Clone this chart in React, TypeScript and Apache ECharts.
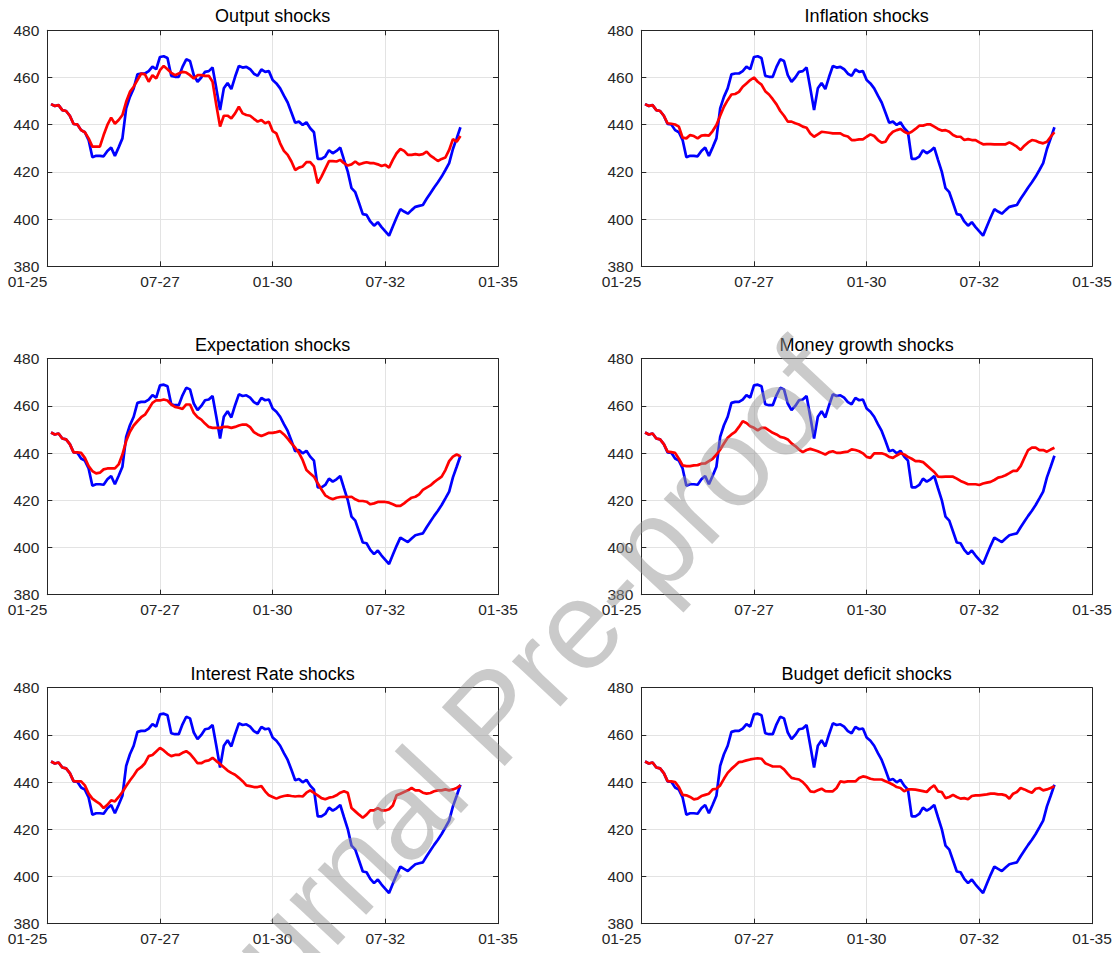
import React, { useEffect, useRef } from "react";
import * as echarts from "echarts";

// month index 0 = Jan 1925; first observation is month 1
const startMonth = 1;
const tickLabels = ["01-25", "07-27", "01-30", "07-32", "01-35"];
const titles = [
  "Output shocks",
  "Inflation shocks",
  "Expectation shocks",
  "Money growth shocks",
  "Interest Rate shocks",
  "Budget deficit shocks",
];

const actual = [
  448.7, 447.9, 448.3, 446.2, 445.8, 443.8, 440.3, 440.1, 437.7, 436.8,
  433.5, 426.2, 426.8, 426.8, 426.6, 428.9, 430.3, 426.8, 430.4, 434.2,
  446.9, 451.8, 455.4, 461.3, 461.7, 461.7, 462.7, 464.6, 463.5, 468.7,
  469.0, 468.3, 460.7, 460.3, 460.3, 464.5, 467.7, 467.0, 461.0, 458.2,
  460.0, 462.4, 462.7, 464.2, 455.4, 446.2, 455.4, 457.7, 455.1, 460.3,
  464.9, 464.2, 464.5, 463.5, 461.6, 460.7, 463.4, 462.4, 462.7, 458.9,
  457.5, 455.4, 452.3, 449.4, 445.2, 440.8, 441.3, 439.9, 441.0, 438.5,
  436.8, 425.5, 425.5, 426.5, 429.2, 427.9, 428.9, 430.3, 425.1, 420.1,
  413.1, 411.4, 406.8, 402.1, 401.8, 399.0, 397.2, 398.7, 396.6, 394.8,
  393.0, 396.9, 400.7, 404.2, 403.2, 402.3, 403.8, 405.2, 405.6, 406.0,
  408.6, 411.0, 413.4, 415.6, 418.0, 420.8, 423.7, 429.7, 434.2, 438.9,
];

const outputShock = [
  448.7, 447.9, 448.3, 446.2, 445.8, 443.8, 440.3, 440.1, 437.7, 436.8,
  434.2, 430.7, 430.7, 430.7, 435.6, 439.9, 443.0, 440.4, 442.0, 444.1,
  449.7, 453.9, 456.1, 458.9, 461.7, 461.3, 458.2, 461.0, 459.6, 463.1,
  464.9, 463.5, 462.0, 461.0, 461.7, 462.4, 462.1, 461.0, 459.6, 461.0,
  461.0, 460.7, 460.7, 458.2, 448.3, 439.2, 443.8, 443.8, 442.7, 444.8,
  447.6, 444.8, 444.1, 443.8, 442.5, 441.3, 442.0, 440.6, 441.3, 437.3,
  436.3, 432.1, 428.9, 427.2, 424.4, 420.8, 421.8, 422.3, 424.1, 424.1,
  422.3, 415.2, 418.0, 421.3, 424.6, 424.6, 424.4, 425.1, 423.7, 422.7,
  423.2, 424.4, 423.2, 423.7, 424.1, 423.7, 423.7, 423.2, 422.5, 423.0,
  421.8, 425.1, 427.9, 429.7, 428.9, 427.2, 427.2, 427.5, 427.2, 427.5,
  428.6, 426.9, 425.8, 424.6, 425.5, 426.1, 429.3, 433.9, 432.8, 435.2,
];

const inflationShock = [
  448.7, 447.9, 448.3, 446.2, 445.8, 443.8, 440.6, 440.4, 440.1, 439.2,
  434.5, 434.2, 435.6, 435.2, 434.2, 435.4, 435.6, 435.4, 437.3, 439.9,
  443.8, 447.6, 450.4, 452.8, 453.0, 453.9, 456.1, 457.5, 458.9, 460.0,
  458.2, 457.0, 454.2, 452.8, 450.8, 448.6, 445.8, 443.8, 441.3, 441.3,
  440.6, 440.1, 439.2, 438.7, 436.3, 434.9, 435.9, 437.0, 436.8, 436.6,
  436.3, 436.3, 436.3, 435.4, 435.0, 433.5, 433.5, 433.8, 433.8, 434.9,
  435.9, 435.2, 433.5, 432.4, 432.8, 435.4, 437.0, 437.7, 438.2, 437.0,
  436.3, 437.0, 438.2, 439.6, 439.6, 440.1, 440.1, 439.2, 438.2, 437.5,
  437.7, 437.0, 435.6, 434.9, 434.9, 433.5, 433.9, 433.5, 433.5, 432.5,
  431.7, 431.8, 431.8, 431.7, 431.7, 431.7, 431.7, 432.5, 431.7, 430.7,
  429.3, 431.1, 432.5, 433.5, 433.2, 432.5, 432.1, 432.8, 434.9, 436.8,
];

const expectationShock = [
  448.7, 447.9, 448.3, 446.2, 445.8, 443.8, 440.3, 440.3, 440.1, 438.0,
  434.5, 432.4, 431.4, 431.7, 433.1, 433.5, 433.5, 433.5, 435.2, 439.4,
  445.1, 449.0, 451.7, 453.5, 455.2, 456.3, 458.7, 461.3, 462.4, 462.3,
  462.7, 462.3, 460.6, 459.6, 459.2, 458.7, 460.6, 460.6, 457.0, 455.2,
  454.2, 452.5, 451.1, 450.7, 450.7, 450.7, 451.1, 451.1, 450.7, 451.1,
  451.7, 452.1, 452.1, 451.0, 448.9, 447.9, 447.2, 447.9, 448.6, 448.6,
  448.9, 449.3, 447.9, 446.1, 444.1, 442.3, 440.1, 437.0, 432.8, 431.4,
  430.0, 427.2, 424.6, 422.1, 421.1, 420.4, 421.1, 421.4, 421.5, 421.4,
  421.5, 420.4, 419.7, 419.7, 419.4, 418.3, 418.7, 419.3, 419.3, 419.3,
  419.0, 418.3, 417.6, 417.6, 418.7, 420.0, 421.1, 421.5, 422.5, 424.4,
  425.4, 426.3, 427.7, 428.9, 430.0, 432.8, 436.6, 438.5, 439.4, 438.7,
];

const moneyGrowthShock = [
  448.7, 447.9, 448.3, 446.2, 445.8, 443.8, 440.6, 440.4, 440.1, 437.6,
  434.8, 434.5, 434.5, 434.8, 434.9, 435.5, 435.6, 436.6, 437.6, 439.4,
  441.5, 444.1, 446.5, 447.9, 449.0, 451.1, 453.5, 452.8, 451.4, 450.7,
  449.6, 450.7, 450.7, 449.6, 448.6, 447.9, 446.9, 446.5, 445.8, 444.1,
  443.0, 441.5, 440.4, 441.3, 441.8, 441.3, 440.8, 440.1, 439.4, 440.4,
  440.8, 440.1, 440.1, 440.4, 440.6, 441.6, 441.3, 440.8, 439.9, 438.4,
  438.0, 439.9, 439.9, 439.9, 439.4, 438.4, 438.0, 439.0, 439.9, 439.4,
  438.4, 437.6, 436.6, 436.6, 436.2, 434.8, 433.4, 432.0, 430.0, 429.9,
  430.0, 430.0, 430.0, 429.2, 428.2, 427.5, 426.8, 426.8, 426.8, 426.5,
  427.1, 427.5, 427.8, 428.6, 429.6, 430.0, 430.6, 431.5, 432.5, 432.5,
  434.5, 438.0, 441.3, 442.3, 442.3, 441.3, 441.3, 440.6, 441.5, 442.3,
];

const interestRateShock = [
  448.7, 447.9, 448.3, 446.2, 445.8, 443.8, 440.4, 440.3, 440.3, 438.6,
  435.1, 433.0, 431.8, 430.8, 429.0, 430.4, 432.3, 431.8, 433.7, 435.8,
  438.3, 440.7, 442.8, 445.2, 446.3, 448.0, 451.0, 451.5, 453.0, 454.5,
  453.4, 452.0, 451.0, 451.5, 451.5, 452.4, 453.1, 452.0, 450.1, 448.0,
  448.0, 448.9, 449.2, 450.3, 448.9, 447.7, 446.3, 444.9, 443.9, 443.1,
  441.8, 440.4, 438.6, 438.3, 437.9, 437.9, 438.3, 436.1, 434.4, 433.7,
  433.0, 433.7, 434.1, 434.4, 434.1, 433.9, 434.1, 433.9, 435.5, 436.5,
  435.4, 434.4, 433.2, 432.7, 433.4, 433.7, 434.4, 435.5, 436.1, 435.5,
  429.0, 427.6, 426.2, 424.9, 426.2, 428.0, 428.0, 429.0, 428.0, 428.0,
  428.5, 430.1, 434.4, 435.1, 435.8, 436.5, 437.5, 436.5, 436.5, 435.5,
  435.1, 435.4, 436.1, 436.5, 436.5, 436.9, 436.5, 436.9, 437.5, 438.6,
];

const budgetDeficitShock = [
  448.7, 447.9, 448.3, 446.2, 445.8, 443.8, 440.4, 440.3, 440.0, 437.9,
  434.6, 434.4, 433.7, 432.7, 433.0, 434.1, 434.6, 435.1, 436.9, 437.2,
  438.6, 441.4, 443.9, 445.6, 447.0, 448.5, 448.7, 449.2, 449.6, 449.9,
  450.1, 449.9, 448.0, 447.3, 446.6, 446.6, 446.6, 445.4, 443.5, 441.8,
  441.4, 441.1, 440.0, 438.3, 436.1, 435.8, 436.5, 437.2, 436.2, 436.1,
  436.1, 437.5, 440.3, 440.0, 440.3, 440.3, 440.3, 441.7, 442.4, 442.1,
  441.4, 441.1, 441.1, 441.1, 440.4, 439.7, 438.9, 437.9, 437.5, 436.1,
  436.9, 436.9, 436.8, 436.5, 436.2, 435.8, 437.5, 438.6, 436.1, 435.8,
  433.2, 433.7, 434.6, 433.7, 433.0, 433.2, 432.7, 434.1, 434.4, 434.4,
  434.6, 434.8, 435.1, 435.1, 434.8, 434.8, 434.4, 433.0, 435.1, 435.8,
  437.5, 436.9, 436.1, 435.5, 437.2, 437.5, 436.5, 436.9, 437.5, 438.3,
];

const shocks = [
  outputShock,
  inflationShock,
  expectationShock,
  moneyGrowthShock,
  interestRateShock,
  budgetDeficitShock,
];

const FONT = "'Liberation Sans', Arial, Helvetica, sans-serif";
const AXIS_COLOR = "#262626";
const GRID_COLOR = "#e3e3e3";

export default function App() {
  const ref = useRef<HTMLDivElement>(null);

  useEffect(() => {
    if (!ref.current) return;
    const chart = echarts.init(ref.current, null, { renderer: "svg" });

    const lefts = [47.3, 641.3];
    const tops = [30.3, 358.7, 687.7];
    const W = 450.7;
    const H = 236;

    const grids: any[] = [];
    const xAxes: any[] = [];
    const yAxes: any[] = [];
    const series: any[] = [];
    const graphics: any[] = [];

    shocks.forEach((shock, i) => {
      const col = i % 2;
      const row = Math.floor(i / 2);
      const left = lefts[col];
      const top = tops[row];
      grids.push({ left, top, width: W, height: H, containLabel: false });

      const baseX = {
        type: "value",
        gridIndex: i,
        min: 0,
        max: 120,
        interval: 30,
        axisLine: { show: true, onZero: false, lineStyle: { color: AXIS_COLOR, width: 1 } },
        axisTick: { show: true, inside: true, length: 5, lineStyle: { color: AXIS_COLOR } },
      };
      xAxes.push({
        ...baseX,
        position: "bottom",
        axisLabel: {
          show: true,
          color: AXIS_COLOR,
          fontFamily: FONT,
          fontSize: 15.5,
          margin: 7,
          alignMinLabel: "right",
          formatter: (v: number) => tickLabels[Math.round(v / 30)] ?? "",
        },
        splitLine: { show: true, lineStyle: { color: GRID_COLOR, width: 1 } },
      });
      xAxes.push({
        ...baseX,
        position: "top",
        axisLabel: { show: false },
        splitLine: { show: false },
      });

      const baseY = {
        type: "value",
        gridIndex: i,
        min: 380,
        max: 480,
        interval: 20,
        axisLine: { show: true, onZero: false, lineStyle: { color: AXIS_COLOR, width: 1 } },
        axisTick: { show: true, inside: true, length: 5, lineStyle: { color: AXIS_COLOR } },
      };
      yAxes.push({
        ...baseY,
        position: "left",
        axisLabel: {
          show: true,
          color: AXIS_COLOR,
          fontFamily: FONT,
          fontSize: 15.5,
          margin: 8,
        },
        splitLine: { show: true, lineStyle: { color: GRID_COLOR, width: 1 } },
      });
      yAxes.push({
        ...baseY,
        position: "right",
        axisLabel: { show: false },
        splitLine: { show: false },
      });

      series.push({
        type: "line",
        xAxisIndex: i * 2,
        yAxisIndex: i * 2,
        data: actual.map((v, k) => [startMonth + k, v]),
        showSymbol: false,
        symbol: "none",
        lineStyle: { color: "#0000ff", width: 2.7 },
        z: 2,
      });
      series.push({
        type: "line",
        xAxisIndex: i * 2,
        yAxisIndex: i * 2,
        data: shock.map((v, k) => [startMonth + k, v]),
        showSymbol: false,
        symbol: "none",
        lineStyle: { color: "#ff0000", width: 2.7 },
        z: 3,
      });

      graphics.push({
        type: "text",
        x: left + W / 2,
        y: top - 14,
        style: {
          text: titles[i],
          font: `18px ${FONT}`,
          fill: "#000000",
          textAlign: "center",
          textVerticalAlign: "middle",
        },
        z: 10,
      });
    });

    graphics.push({
      type: "text",
      x: 492,
      y: 716,
      rotation: 0.82,
      style: {
        text: "Journal Pre-proof",
        font: `125px ${FONT}`,
        fill: "rgba(150,150,150,0.5)",
        textAlign: "center",
        textVerticalAlign: "middle",
      },
      z: 100,
    });

    chart.setOption({
      animation: false,
      backgroundColor: "#ffffff",
      grid: grids,
      xAxis: xAxes,
      yAxis: yAxes,
      series,
      graphic: graphics,
    });

    return () => chart.dispose();
  }, []);

  return (
    <div
      ref={ref}
      style={{ position: "absolute", left: 0, top: 0, width: 1116, height: 953 }}
    />
  );
}
